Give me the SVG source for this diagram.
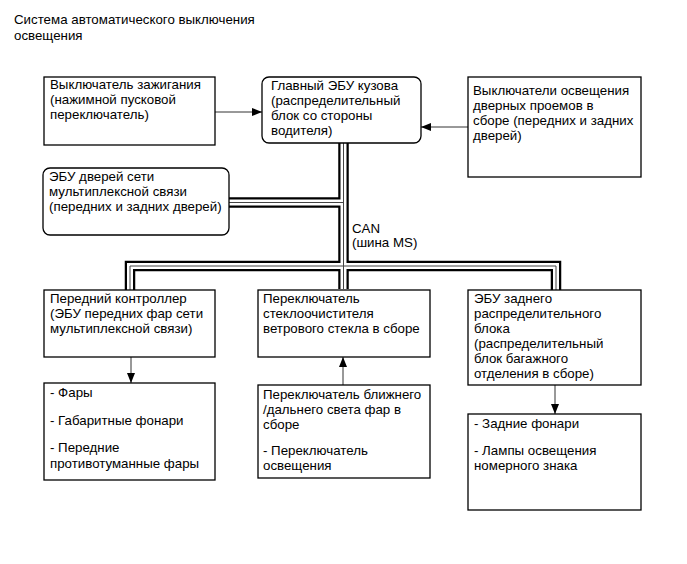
<svg xmlns="http://www.w3.org/2000/svg" width="687" height="564" viewBox="0 0 687 564">
<defs>
<style>
text{font-family:"Liberation Sans",Arial,sans-serif;font-size:13.3px;fill:#000}
.box{fill:#fff;stroke:#000;stroke-width:1.3}
.bus-o{fill:none;stroke:#000;stroke-width:10.5;stroke-linejoin:miter}
.bus-w{fill:none;stroke:#fff;stroke-width:6;stroke-linejoin:miter}
.bus-c{fill:none;stroke:#444;stroke-width:1;stroke-linejoin:miter}
.arr{fill:none;stroke:#333;stroke-width:1;marker-end:url(#ah)}
</style>
<marker id="ah" viewBox="0 0 10 8" refX="10" refY="4" markerWidth="10" markerHeight="8" markerUnits="userSpaceOnUse" orient="auto">
<path d="M0,0 L10,4 L0,8 z" fill="#000"/>
</marker>
</defs>
<rect width="687" height="564" fill="#fff"/>
<g id="title">
<text x="14" y="24">Система автоматического выключения</text>
<text x="14" y="40">освещения</text>
</g>
<g id="connectors">
<path class="bus-o" d="M343.5,143 V289 M229,202.5 H343.5 M130,290 V266 H556 V290"/>
<path class="bus-w" d="M343.5,143 V289 M229,202.5 H343.5 M130,290 V266 H556 V290"/>
<path class="bus-c" d="M343.5,143 V289 M229,202.5 H343.5 M130,290 V266 H556 V290"/>
<path class="arr" d="M215,112 H262"/>
<path class="arr" d="M468,127 H421"/>
<path class="arr" d="M131,357 V383"/>
<path class="arr" d="M343,385 V357"/>
<path class="arr" d="M555,385 V414"/>
<text x="352" y="233">CAN</text>
<text x="352" y="247">(шина MS)</text>
</g>
<g id="ignition-switch">
<rect class="box" x="44" y="77" width="171" height="68"/>
<text x="50" y="89">Выключатель зажигания</text>
<text x="50" y="104">(нажимной пусковой</text>
<text x="50" y="119">переключатель)</text>
</g>
<g id="main-body-ecu">
<rect class="box" x="262" y="77" width="159" height="66" rx="7"/>
<text x="271" y="90">Главный ЭБУ кузова</text>
<text x="271" y="105">(распределительный</text>
<text x="271" y="120">блок со стороны</text>
<text x="271" y="135">водителя)</text>
</g>
<g id="door-light-switches">
<rect class="box" x="468" y="77" width="173" height="100"/>
<text x="473" y="95">Выключатели освещения</text>
<text x="473" y="110">дверных проемов в</text>
<text x="473" y="125">сборе (передних и задних</text>
<text x="473" y="140">дверей)</text>
</g>
<g id="door-ecu">
<rect class="box" x="43" y="168" width="186" height="67" rx="7"/>
<text x="49" y="181">ЭБУ дверей сети</text>
<text x="49" y="196">мультиплексной связи</text>
<text x="49" y="211">(передних и задних дверей)</text>
</g>
<g id="front-controller">
<rect class="box" x="44" y="290" width="171" height="67"/>
<text x="50" y="303">Передний контроллер</text>
<text x="50" y="318">(ЭБУ передних фар сети</text>
<text x="50" y="333">мультиплексной связи)</text>
</g>
<g id="wiper-switch">
<rect class="box" x="258" y="290" width="172" height="67"/>
<text x="263" y="303">Переключатель</text>
<text x="263" y="318">стеклоочистителя</text>
<text x="263" y="333">ветрового стекла в сборе</text>
</g>
<g id="rear-ecu">
<rect class="box" x="468" y="290" width="173" height="95"/>
<text x="474" y="303">ЭБУ заднего</text>
<text x="474" y="318">распределительного</text>
<text x="474" y="333">блока</text>
<text x="474" y="348">(распределительный</text>
<text x="474" y="363">блок багажного</text>
<text x="474" y="378">отделения в сборе)</text>
</g>
<g id="front-lamps">
<rect class="box" x="44" y="383" width="171" height="97"/>
<text x="50" y="397">- Фары</text>
<text x="50" y="425">- Габаритные фонари</text>
<text x="50" y="452">- Передние</text>
<text x="50" y="468">противотуманные фары</text>
</g>
<g id="light-switch">
<rect class="box" x="258" y="385" width="172" height="93"/>
<text x="263" y="399">Переключатель ближнего</text>
<text x="263" y="414">/дальнего света фар в</text>
<text x="263" y="429">сборе</text>
<text x="263" y="455">- Переключатель</text>
<text x="263" y="470">освещения</text>
</g>
<g id="rear-lamps">
<rect class="box" x="468" y="414" width="173" height="96"/>
<text x="474" y="428">- Задние фонари</text>
<text x="474" y="455">- Лампы освещения</text>
<text x="474" y="470">номерного знака</text>
</g>
</svg>
